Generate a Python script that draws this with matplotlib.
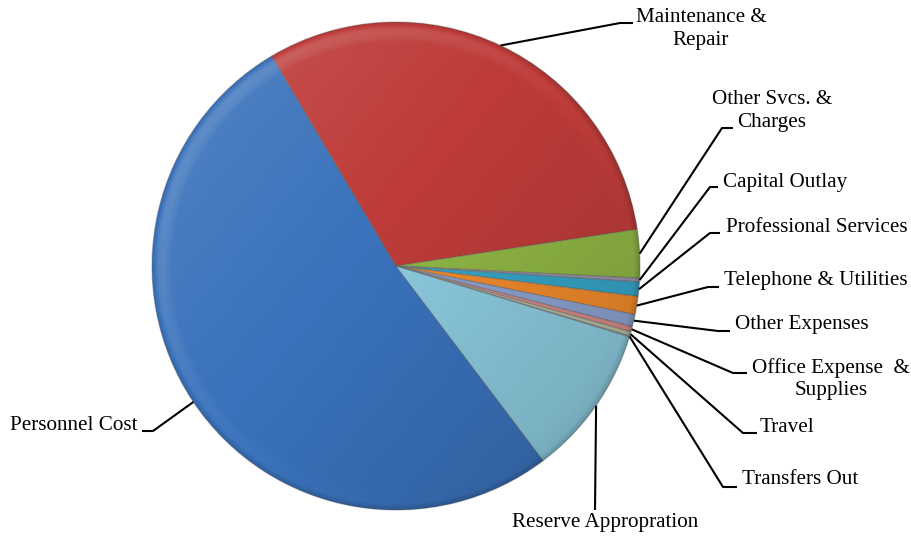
import numpy as np
import matplotlib
matplotlib.use("Agg")
import matplotlib.pyplot as plt
from matplotlib.patches import Circle

# budget shares by expense category (percent of total), clockwise order
categories = [
    "Personnel Cost",
    "Maintenance &\nRepair",
    "Other Svcs. &\nCharges",
    "Capital Outlay",
    "Professional Services",
    "Telephone & Utilities",
    "Other Expenses",
    "Office Expense  &\nSupplies",
    "Travel",
    "Transfers Out",
    "Reserve Appropration",
]
shares = [51.8, 31.1, 3.2, 0.25, 0.95, 1.2, 0.8, 0.36, 0.28, 0.06, 10.0]
colors = [
    "#3a72bb", "#bd3c39", "#8fb545", "#9a93ac", "#36a4c6", "#f08a2c",
    "#8ba2d0", "#d48a88", "#b4bfa0", "#ad9fc6", "#8ccade",
]

W, H = 912, 539
fig = plt.figure(figsize=(W / 100, H / 100), dpi=100)
ax = fig.add_axes([0, 0, 1, 1])

cx, cy, R = 396, H - 266, 244
wedges, _ = ax.pie(
    shares, colors=colors, startangle=-52.9, counterclock=False,
    center=(cx, cy), radius=R,
    wedgeprops=dict(linewidth=0.9, edgecolor=(0.35, 0.35, 0.35, 0.35)),
)
ax.set_aspect("equal")
ax.axis("off")

# soft lighting from the upper left plus a bevelled rim
n = 700
X, Y = np.meshgrid(np.linspace(-1, 1, n), np.linspace(-1, 1, n))
rr = np.hypot(X, Y)
shade = 0.15 * (-0.6 * X + 0.5 * Y) - 0.02
rim = np.clip((rr - 0.92) / 0.08, 0, 1)
shade += 0.08 * np.sin(np.pi * rim) * (0.5 - 0.5 * X + 0.5 * Y)
shade -= 0.14 * np.clip((rr - 0.975) / 0.025, 0, 1)
rgba = np.zeros((n, n, 4))
rgba[..., :3] = (shade > 0)[..., None].astype(float)
rgba[..., 3] = np.clip(np.abs(shade), 0, 1)
clip = Circle((cx, cy), R, transform=ax.transData)
im = ax.imshow(rgba, origin="lower", extent=(cx - R, cx + R, cy - R, cy + R),
               interpolation="bilinear", zorder=3)
im.set_clip_path(clip)
ax.set_xlim(0, W)
ax.set_ylim(0, H)

# leader elbows, line ends and text anchors in pixel coordinates (y from top)
labels = [
    # elbow, end, text position, ha
    ((153, 431), (142, 431), (138, 425), "right"),
    ((620, 23), (633, 23), (701, 29), "center"),
    ((722, 128), (733, 128), (772, 111), "center"),
    ((710, 187), (718, 187), (723, 182), "left"),
    ((710, 233), (720, 233), (726, 227), "left"),
    ((708, 287), (719, 287), (724, 280), "left"),
    ((718, 331), (730, 331), (735, 325), "left"),
    ((733, 373), (747, 373), (831, 379), "center"),
    ((743, 433), (757, 433), (760, 428), "left"),
    ((723, 487), (737, 487), (742, 480), "left"),
    ((595, 510), (595, 510), (605, 523), "center"),
]

font = dict(family="Liberation Serif", size=15.2, color="black")
for w, name, (elbow, end, tpos, ha) in zip(wedges, categories, labels):
    mid = np.deg2rad((w.theta1 + w.theta2) / 2)
    ax0 = cx + R * np.cos(mid)
    ay0 = cy + R * np.sin(mid)
    ax.plot([ax0, elbow[0], end[0]], [ay0, H - elbow[1], H - end[1]],
            color="black", lw=1.5, zorder=4, solid_capstyle="butt")
    ax.text(tpos[0], H - tpos[1], name, ha=ha, va="center",
            multialignment="center", linespacing=1.25, zorder=5, **font)

fig.savefig("out.png", dpi=100)
